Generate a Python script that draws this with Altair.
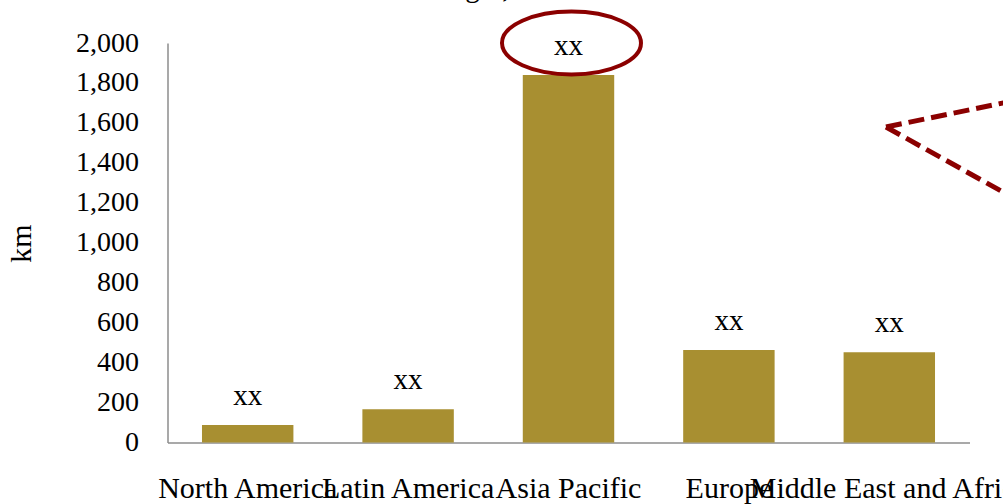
import altair as alt
import pandas as pd

# Network length by region (km)
regions = ["North America", "Latin America", "Asia Pacific", "Europe", "Middle East and Africa"]
length_km = [88, 166, 1840, 463, 452]
bar_labels = ["xx", "xx", "xx", "xx", "xx"]
y_ticks = [0, 200, 400, 600, 800, 1000, 1200, 1400, 1600, 1800, 2000]

# Ring drawn around the highlighted region's label
highlight_region = ["Asia Pacific"]
highlight_level = [2000]

chart_title = "Track length, 2012"

df = pd.DataFrame({"region": regions, "km": length_km, "label": bar_labels})
ring_df = pd.DataFrame({"region": highlight_region, "km": highlight_level})
one_row = pd.DataFrame({"n": [0]})

FONT = "Liberation Serif"
GOLD = "#A88F31"
RED = "#8B0000"
AXIS_GREY = "#8C8C8C"

x_enc = alt.X(
    "region:N",
    scale=alt.Scale(domain=regions, paddingInner=0.43, paddingOuter=0.215),
    axis=alt.Axis(
        title=None,
        labelAngle=0,
        labelLimit=0,
        labelOverlap=False,
        labelBaseline="alphabetic",
        labelPadding=55,
        ticks=False,
        domainColor=AXIS_GREY,
        domainWidth=1.5,
        labelFont=FONT,
        labelFontSize=30,
        labelColor="black",
    ),
)

y_enc = alt.Y(
    "km:Q",
    scale=alt.Scale(domain=[0, 2000], nice=False),
    axis=alt.Axis(
        title="km",
        values=y_ticks,
        format=",d",
        ticks=False,
        grid=False,
        labelPadding=29,
        labelFont=FONT,
        labelFontSize=28,
        labelColor="black",
        domainColor=AXIS_GREY,
        domainWidth=1.5,
        titleFont=FONT,
        titleFontSize=30,
        titleFontWeight="normal",
        titleColor="black",
        titleX=-146,
        titleY=200,
        titleAlign="center",
        titleBaseline="middle",
    ),
)

bars = alt.Chart(df).mark_bar(color=GOLD).encode(x=x_enc, y=y_enc)

values_text = alt.Chart(df).mark_text(
    font=FONT, fontSize=29, color="black", baseline="alphabetic", dy=-20
).encode(x=x_enc, y=y_enc, text="label:N")

# Elliptical ring, nudged slightly right of the band centre
ring = alt.Chart(ring_df).mark_point(
    shape="M -0.957 0 A 1 0.4532 0 1 1 1.043 0 A 1 0.4532 0 1 1 -0.957 0 Z",
    size=19321,
    filled=False,
    stroke=RED,
    strokeWidth=4,
    opacity=1,
).encode(x=x_enc, y=y_enc)

# Dashed callout pointing in from the right edge
callout_upper = alt.Chart(one_row).mark_rule(
    color=RED, strokeWidth=5, strokeDash=[16, 7], strokeCap="butt"
).encode(x=alt.value(718.5), y=alt.value(84), x2=alt.value(872.5), y2=alt.value(52.4))

callout_lower = alt.Chart(one_row).mark_rule(
    color=RED, strokeWidth=5, strokeDash=[16, 7], strokeCap="butt"
).encode(x=alt.value(718.5), y=alt.value(84), x2=alt.value(872.5), y2=alt.value(169.6))

title_text = alt.Chart(one_row).mark_text(
    text=chart_title, font=FONT, fontSize=29, color="black", align="left", baseline="alphabetic"
).encode(x=alt.value(188.5), y=alt.value(-46))

chart = (
    alt.layer(bars, values_text, ring, callout_upper, callout_lower, title_text)
    .properties(
        width=802,
        height=399.5,
        autosize=alt.AutoSizeParams(type="none"),
        padding={"left": 167.5, "top": 43, "right": 33.5, "bottom": 61.5},
        background="white",
    )
    .configure_view(stroke=None)
)

chart.save("out.html", embed_options={"renderer": "svg", "actions": False})
